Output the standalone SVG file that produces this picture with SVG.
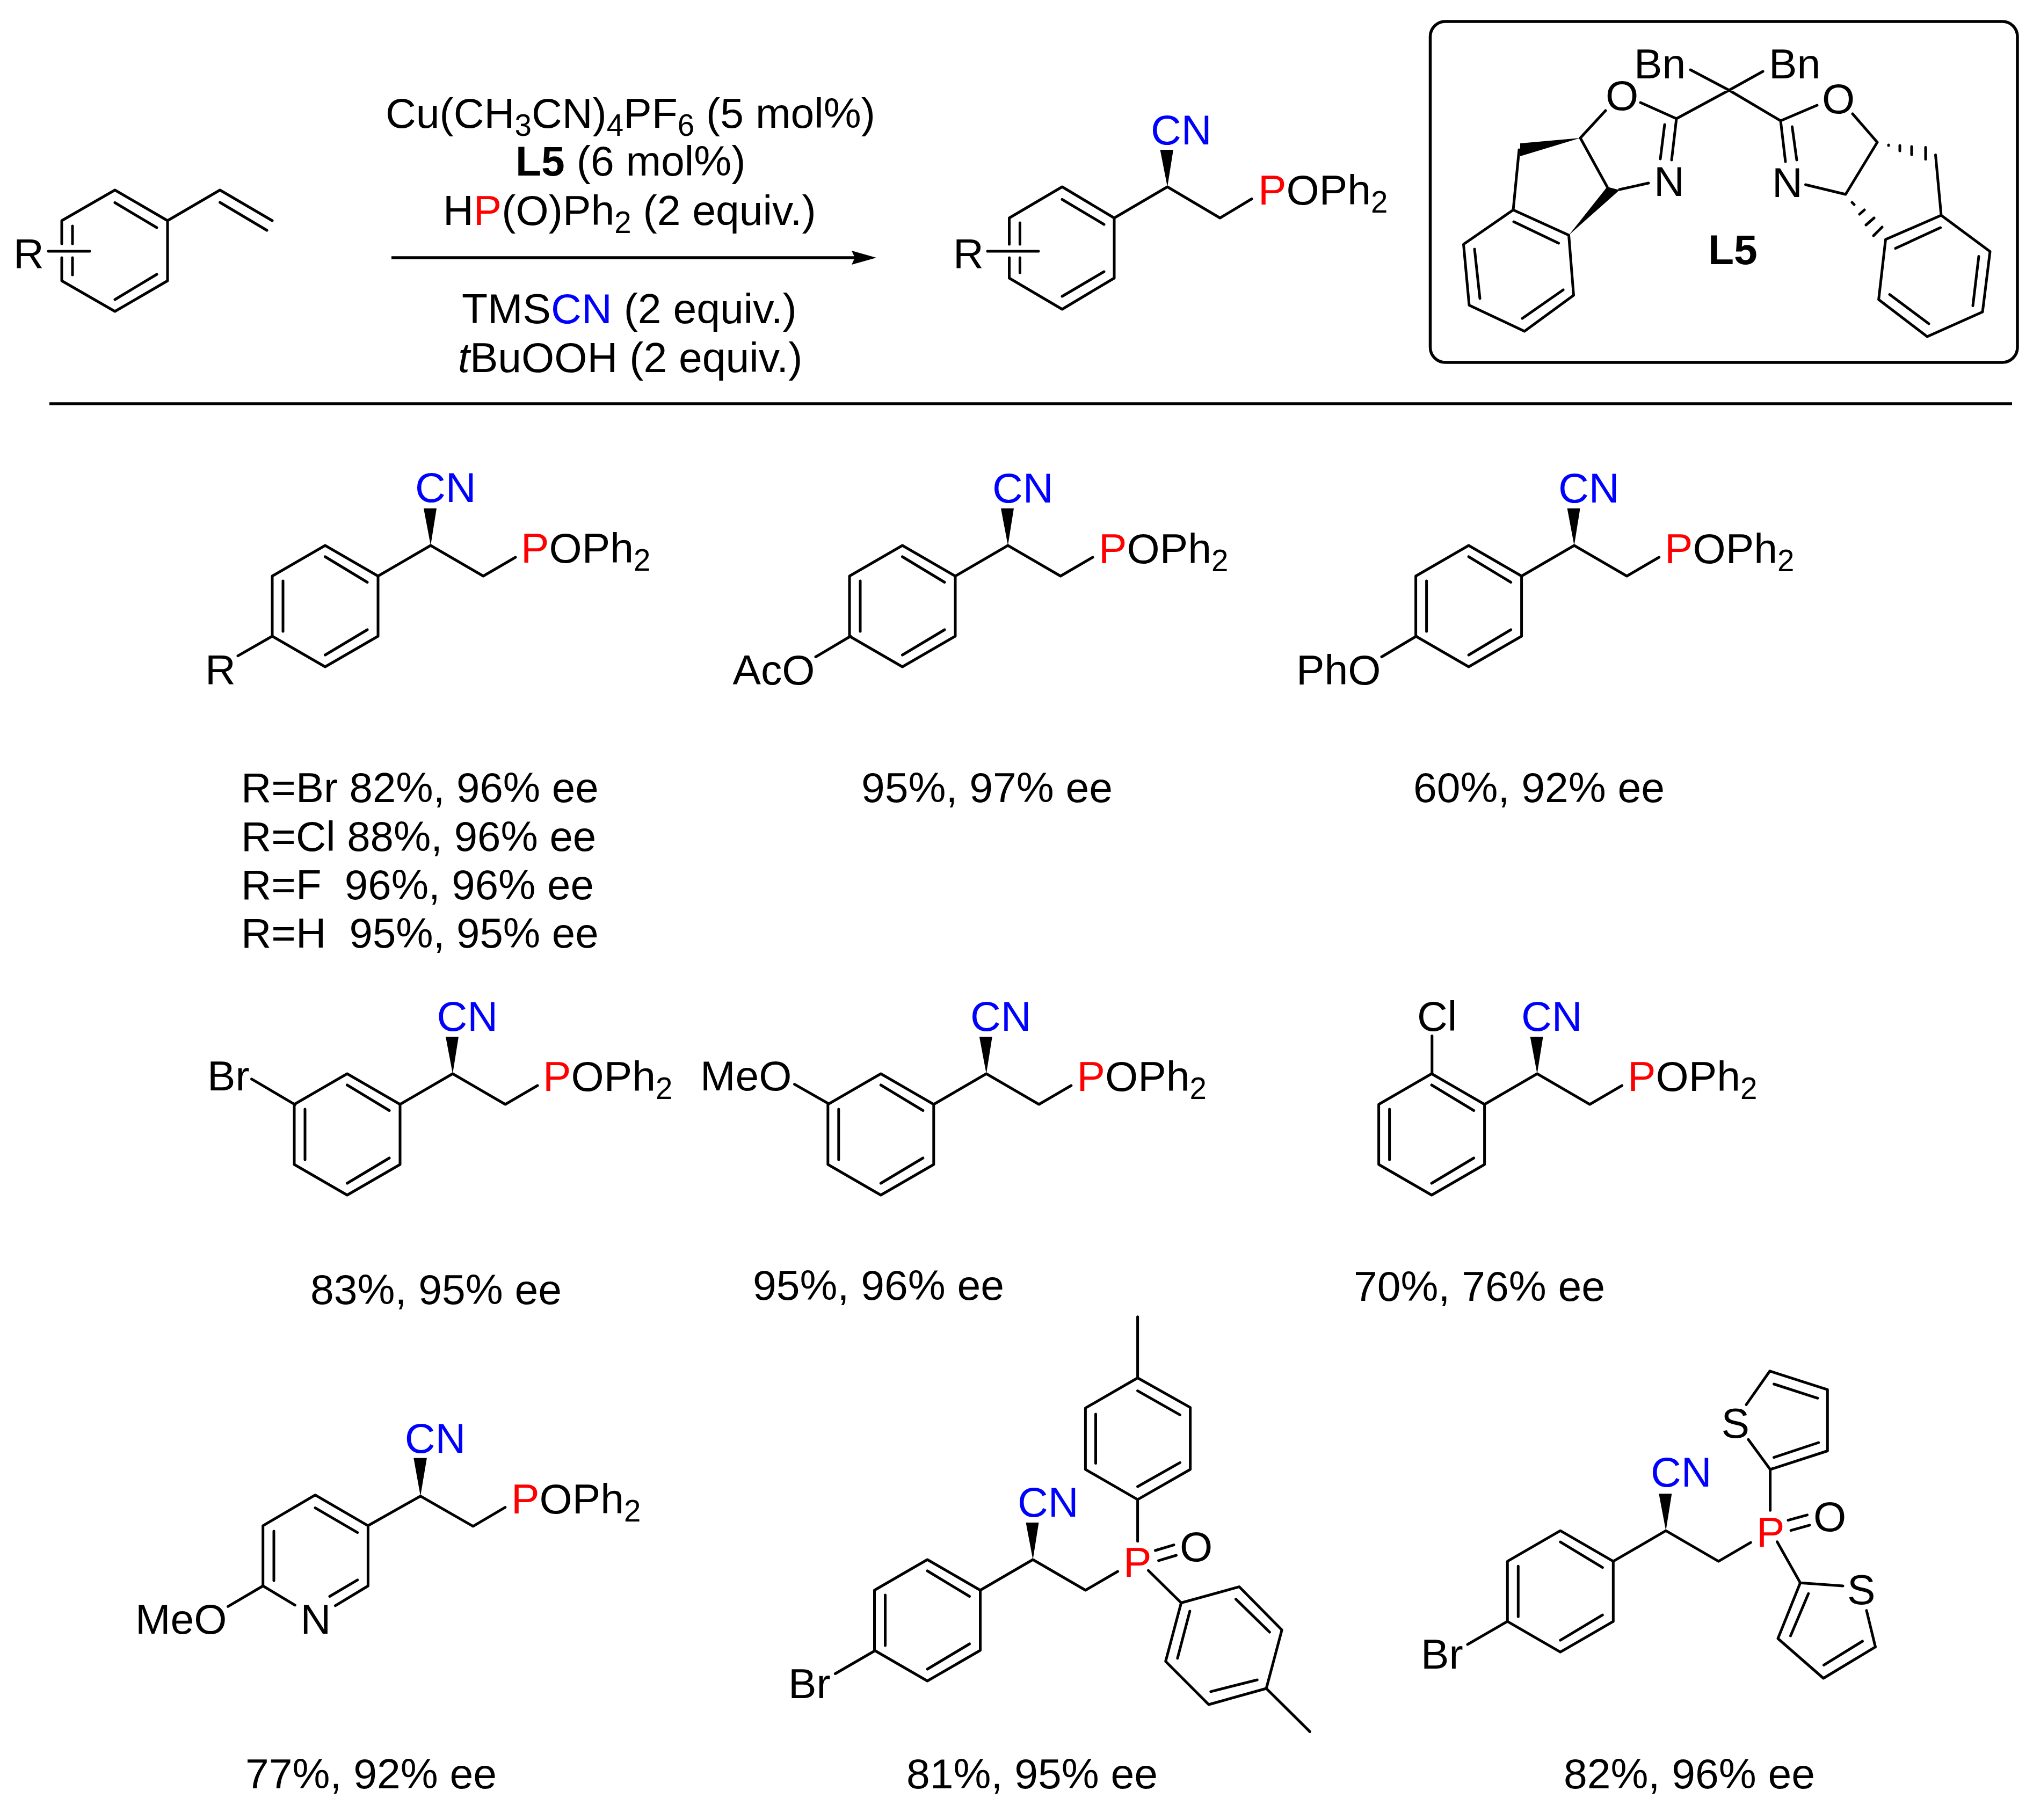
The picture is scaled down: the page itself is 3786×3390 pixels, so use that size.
<svg xmlns="http://www.w3.org/2000/svg" width="3786" height="3390" viewBox="0 0 3786 3390">
<style>
text{font-family:"Liberation Sans",Arial,sans-serif;font-size:78.7px;fill:#000;white-space:pre}
.s{font-size:56.5px}
.t{font-size:78px}
.r{fill:#f00}
.c{fill:#00f}
.b{fill:none;stroke:#000;stroke-width:5;stroke-linecap:round;stroke-linejoin:round}
.l{fill:none;stroke:#000;stroke-width:5.5}
.w{fill:#000;stroke:none}
</style>
<defs>
<g id="core">
<path class="b" d="M-98 57L-196.5 0L-295 57V169L-196.5 226L-98 169ZM-98 57L0 0L98 57L158 22M-275 66V160M-196.5 21L-118 68.5M-196.5 204L-118 157"/>
<polygon class="w" points="0,0 -13,-69 11,-69"/>
</g>
</defs>
<rect width="3786" height="3390" fill="#fff"/>

<g id="styrene">
<path class="b" d="M115 454V411L214 354L312 411V523L214 580L115 523V480M135 421V454M135 480V512M214 377.500L292 424M214 558L292 511M312 411L409.600 354L507 411M409.600 377L497 429M90 468H167"/>
<text x="25" y="499">R</text>
</g>

<g id="conditions">
<text x="718" y="238">Cu(CH<tspan class="s" dy="15">3</tspan><tspan dy="-15">CN)</tspan><tspan class="s" dy="15">4</tspan><tspan dy="-15">PF</tspan><tspan class="s" dy="15">6</tspan><tspan dy="-15"> (5 mol%)</tspan></text>
<text x="960" y="327"><tspan font-weight="bold">L5</tspan> (6 mol%)</text>
<text x="825" y="419">H<tspan class="r">P</tspan>(O)Ph<tspan class="s" dy="15">2</tspan><tspan dy="-15"> (2 equiv.)</tspan></text>
<text x="860" y="602">TMS<tspan class="c">CN</tspan> (2 equiv.)</text>
<text x="853" y="693"><tspan font-style="italic">t</tspan>BuOOH (2 equiv.)</text>
</g>

<g id="connectors">
<path class="l" d="M729 480H1592"/>
<polygon class="w" points="1586,467 1632,480 1586,493 1592,480"/>
<path class="l" d="M92 752H3747"/>
</g>

<g id="product">
<path class="b" d="M1879.500 455V406L1978 348L2075 406V518L1978 576L1879.500 518V480M1899.400 415V455M1899.400 480V508M1978 371.500L2056 418M1978 552L2056 506M2075 406L2174 348L2272 406L2331 370.500M1839 468H1934"/>
<polygon class="w" points="2174,348 2160.500,279 2185,279"/>
<text x="1775" y="499">R</text>
<text class="c" x="2143" y="268.600">CN</text>
<text x="2343" y="380.500"><tspan class="r">P</tspan>OPh<tspan class="s" dy="15">2</tspan></text>
</g>

<g id="ligand-L5">
<rect x="2663.500" y="40" width="1093.500" height="635" rx="28" ry="28" fill="none" stroke="#000" stroke-width="5.500"/>
<path class="b" d="M3148 130L3220 168L3283 133M3122 221L3220 168L3316 225M3122 221L3055 191M2990 206L2943 257L2993 348M3016 353L3070 341M3122 221L3113 298M3100 232L3092 296M2829 279L2818 391L2921.500 438L2930.500 550L2839 617L2736 568.500L2725.500 455L2818 391M2819 413L2902.500 453M2911 540L2835 593M2746 464L2756 556M3316 225L3325 301M3337.500 236L3346 298M3316 225L3384 196M3450 212L3496 265L3437 362L3362.500 344M3604.500 288.500L3615 401L3511.500 446L3498.600 558L3589 627L3692 581L3706 468.500L3615 401M3613.600 424L3530 462.600M3519 548.600L3592 603M3685 477.500L3674 569.500"/>
<polygon class="w" points="2943,257 2831,267 2831,291"/>
<polygon class="w" points="2921.500,438 2993,348 3016,354"/>
<path class="b" d="M3517 270V271M3538 271V281M3560 273V288M3586 274.500V296.500M3449 377L3453 381M3463 399L3472 391M3475 419L3490 406M3489 439L3505 423"/>
<text x="3043" y="146">Bn</text>
<text x="3294" y="146">Bn</text>
<text x="2990" y="205">O</text>
<text x="3393" y="211">O</text>
<text x="3080" y="365">N</text>
<text x="3300" y="367">N</text>
<text x="3181" y="492.400" font-weight="bold">L5</text>
</g>

<g id="compound-1">
<use href="#core" x="802" y="1016"/>
<path class="b" d="M507 1185L443 1221.600"/>
<text x="382" y="1274">R</text>
<text class="c" x="773" y="935">CN</text>
<text x="970" y="1047.500"><tspan class="r">P</tspan>OPh<tspan class="s" dy="15">2</tspan></text>
<text class="t" x="449" y="1494">R=Br 82%, 96% ee</text>
<text class="t" x="449" y="1584.500">R=Cl 88%, 96% ee</text>
<text class="t" x="449" y="1675">R=F  96%, 96% ee</text>
<text class="t" x="449" y="1765">R=H  95%, 95% ee</text>
</g>

<g id="compound-2">
<use href="#core" x="1877" y="1016"/>
<path class="b" d="M1584 1185L1519 1223.500"/>
<text x="1364.500" y="1274.500">AcO</text>
<text class="c" x="1848" y="936">CN</text>
<text x="2046" y="1048.500"><tspan class="r">P</tspan>OPh<tspan class="s" dy="15">2</tspan></text>
<text x="1604" y="1494">95%, 97% ee</text>
</g>

<g id="compound-3">
<use href="#core" x="2931.600" y="1016"/>
<path class="b" d="M2637.600 1185L2573 1223.500"/>
<text x="2414" y="1274.500">PhO</text>
<text class="c" x="2902" y="936">CN</text>
<text x="3100" y="1048.500"><tspan class="r">P</tspan>OPh<tspan class="s" dy="15">2</tspan></text>
<text x="2632" y="1494">60%, 92% ee</text>
</g>

<g id="compound-4">
<use href="#core" x="843" y="2000"/>
<path class="b" d="M549.600 2057.600L468.600 2009.800"/>
<text x="386" y="2031">Br</text>
<text class="c" x="813.500" y="1920">CN</text>
<text x="1011" y="2032"><tspan class="r">P</tspan>OPh<tspan class="s" dy="15">2</tspan></text>
<text x="578" y="2429.400">83%, 95% ee</text>
</g>

<g id="compound-5">
<use href="#core" x="1836.800" y="2000"/>
<path class="b" d="M1543.400 2056L1479.600 2019.600"/>
<text x="1304" y="2031">MeO</text>
<text class="c" x="1807" y="1920">CN</text>
<text x="2005.500" y="2032"><tspan class="r">P</tspan>OPh<tspan class="s" dy="15">2</tspan></text>
<text x="1402" y="2421.400">95%, 96% ee</text>
</g>

<g id="compound-6">
<use href="#core" x="2862.600" y="2000"/>
<path class="b" d="M2666.800 2000V1929.500"/>
<text x="2639" y="1919.600">Cl</text>
<text class="c" x="2833" y="1920">CN</text>
<text x="3031" y="2032"><tspan class="r">P</tspan>OPh<tspan class="s" dy="15">2</tspan></text>
<text x="2521" y="2422.700">70%, 76% ee</text>
</g>

<g id="compound-7">
<path class="b" d="M549.400 2989.800L489.700 2954V2841.800L587 2784.700L685.400 2841.800V2954L624.400 2990.800M614 2973.500L665.800 2942.900M510 2852V2944M587 2808.700L665.800 2854.600M489.700 2954L424.500 2992.300M685.400 2841.800L783 2786.700L881 2842.900L940.800 2807.600"/>
<polygon class="w" points="783,2786.700 770.300,2715.800 794.900,2715.800"/>
<text x="559.500" y="3043.400">N</text>
<text x="252" y="3043.400">MeO</text>
<text class="c" x="753.700" y="2705.600">CN</text>
<text x="952" y="2818.900"><tspan class="r">P</tspan>OPh<tspan class="s" dy="15">2</tspan></text>
<text x="457" y="3331">77%, 92% ee</text>
</g>

<g id="compound-8">
<use href="#core" x="1923.500" y="2905"/>
<path class="b" d="M1629.600 3074.500L1555.400 3117.500M2151.500 2888L2186 2877.600M2157.600 2906.800L2190.500 2897M2118.600 2870.700V2793.200L2216.600 2737V2621.600L2118.600 2566.500L2021.400 2622.700V2737L2118.600 2793.200M2118.600 2566.500V2452.800M2118.600 2769L2197.400 2724.300M2118.600 2590.600L2197.400 2635.300M2040.500 2634V2725.500M2138.500 2925.200L2199.700 2985.500L2307.700 2955.600L2387.200 3036L2358.200 3145L2251 3175L2170.700 3094.500L2199.700 2985.500M2301.500 2978.600L2364.300 3040M2341.300 3129L2254.800 3150.800M2192.800 3088.800L2215.800 3001M2358.200 3145L2439.300 3225.400"/>
<text x="1468" y="3163.400">Br</text>
<text class="c" x="1895" y="2824.800">CN</text>
<text class="r" x="2092" y="2936.700">P</text>
<text x="2197" y="2908">O</text>
<text x="1688" y="3331">81%, 95% ee</text>
</g>

<g id="compound-9">
<use href="#core" x="3102.300" y="2851.200"/>
<path class="b" d="M2807.300 3020L2733 3063M3330 2831.600L3365.500 2821.900M3335.200 2850.600L3370 2840.800M3296.600 2813.300V2737L3403.300 2702.500V2588.300L3295.900 2553.800L3252 2616.400M3255.800 2681.300L3296.600 2737M3303.500 2714.600L3386.700 2687M3303.500 2578L3385 2604.300M3309.500 2871.800L3352.600 2948.200L3432 2954M3476 2999.800L3492.500 3067.600L3395.700 3126L3311 3052L3352.600 2948.200M3468.400 3057L3396.500 3101.400M3367.800 2968.300L3334.500 3047"/>
<text x="2646" y="3107.700">Br</text>
<text class="c" x="3074" y="2769">CN</text>
<text class="r" x="3271" y="2881">P</text>
<text x="3377" y="2852.300">O</text>
<text x="3205.600" y="2677.800">S</text>
<text x="3440" y="2988.400">S</text>
<text x="2912" y="3331">82%, 96% ee</text>
</g>
</svg>
